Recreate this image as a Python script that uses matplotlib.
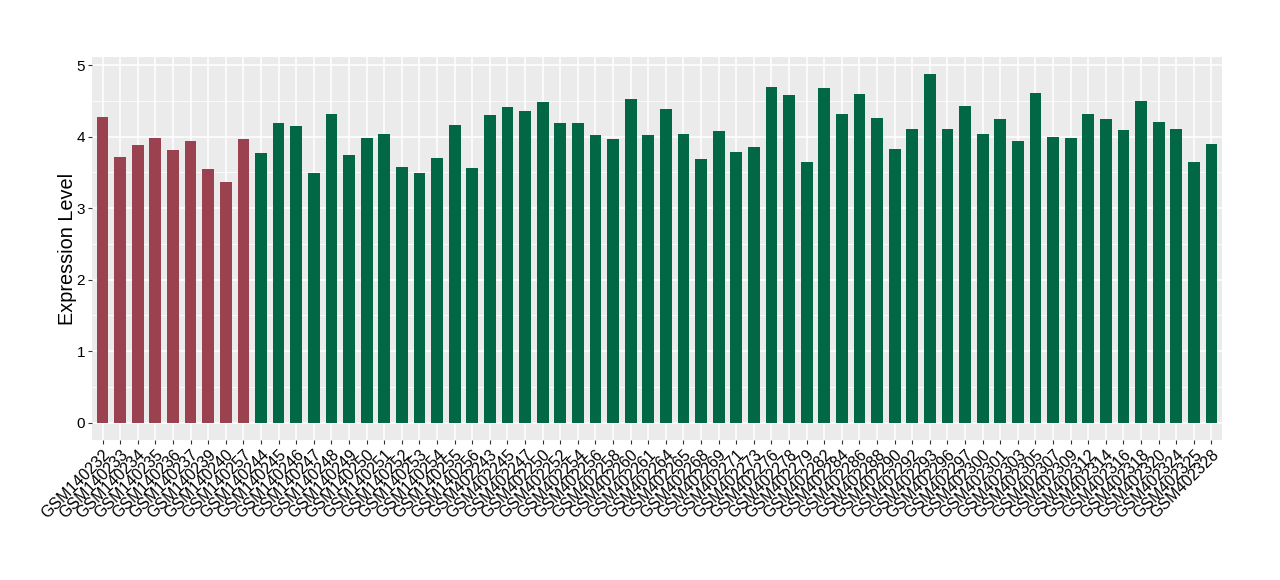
import numpy as np
import matplotlib
matplotlib.use("Agg")
import matplotlib.pyplot as plt
from matplotlib.ticker import MultipleLocator

plt.rcParams["font.family"] = ["Liberation Sans", "DejaVu Sans"]

# Sample names and expression values.
red_samples = ["GSM140232", "GSM140233", "GSM140234", "GSM140235",
    "GSM140236", "GSM140237", "GSM140239", "GSM140240", "GSM140257"]
red_values = [4.27, 3.72, 3.88, 3.98, 3.81, 3.94, 3.55, 3.37, 3.97]

green_samples = ["GSM140244", "GSM140245", "GSM140246", "GSM140247",
    "GSM140248", "GSM140249", "GSM140250", "GSM140251", "GSM140252",
    "GSM140253", "GSM140254", "GSM140255", "GSM140256",
    "GSM402243", "GSM402245", "GSM402247", "GSM402250", "GSM402252",
    "GSM402254", "GSM402256", "GSM402258", "GSM402260", "GSM402261",
    "GSM402264", "GSM402265", "GSM402268", "GSM402269", "GSM402271",
    "GSM402273", "GSM402276", "GSM402278", "GSM402279", "GSM402282",
    "GSM402284", "GSM402286", "GSM402288", "GSM402290", "GSM402292",
    "GSM402293", "GSM402296", "GSM402297", "GSM402300", "GSM402301",
    "GSM402303", "GSM402305", "GSM402307", "GSM402309", "GSM402312",
    "GSM402314", "GSM402316", "GSM402318", "GSM402320", "GSM402324",
    "GSM402325", "GSM402328"]
green_values = [3.77, 4.19, 4.15, 3.49, 4.31, 3.74, 3.98, 4.03, 3.58,
    3.49, 3.70, 4.16, 3.56,
    4.30, 4.41, 4.36, 4.48, 4.19, 4.19, 4.02, 3.97, 4.52, 4.02,
    4.39, 4.04, 3.68, 4.08, 3.78, 3.85, 4.70, 4.58, 3.64, 4.68,
    4.31, 4.59, 4.26, 3.83, 4.10, 4.87, 4.10, 4.43, 4.04, 4.25,
    3.94, 4.61, 4.00, 3.98, 4.31, 4.24, 4.09, 4.50, 4.20, 4.10,
    3.64, 3.90]

red_color = "#9B4250"
green_color = "#026745"

samples = red_samples + green_samples
n = len(samples)
x_red = np.arange(len(red_samples))
x_green = np.arange(len(red_samples), n)

fig = plt.figure(figsize=(12.8, 5.8), dpi=100)
ax = fig.add_axes([0.0719, 0.2414, 0.8828, 0.6603])
ax.set_facecolor("#EBEBEB")

ax.bar(x_red, red_values, width=0.67, color=red_color, zorder=3)
ax.bar(x_green, green_values, width=0.67, color=green_color, zorder=3)

ymax = max(red_values + green_values)
ax.set_xlim(-0.6, n - 1 + 0.6)
ax.set_ylim(-0.05 * ymax, ymax * 1.05)

ax.set_xticks(np.arange(n))
ax.set_xticklabels(samples, rotation=45, ha="right", va="top",
    rotation_mode="anchor", fontsize=11.5)
ax.set_yticks(np.arange(0, 6))
ax.yaxis.set_minor_locator(MultipleLocator(0.5))
ax.tick_params(axis="y", which="major", labelsize=11, length=3,
    color="#333333", pad=2)
ax.tick_params(axis="x", which="major", length=3, color="#333333", pad=2)
ax.tick_params(which="minor", length=0)

ax.grid(True, which="major", color="white", linewidth=1.1, zorder=0)
ax.grid(True, which="minor", axis="y", color="white", linewidth=0.55,
    zorder=0)
for spine in ax.spines.values():
    spine.set_visible(False)

ax.set_ylabel("Expression Level", fontsize=14.3, labelpad=0)

fig.savefig("out.png", dpi=100)
